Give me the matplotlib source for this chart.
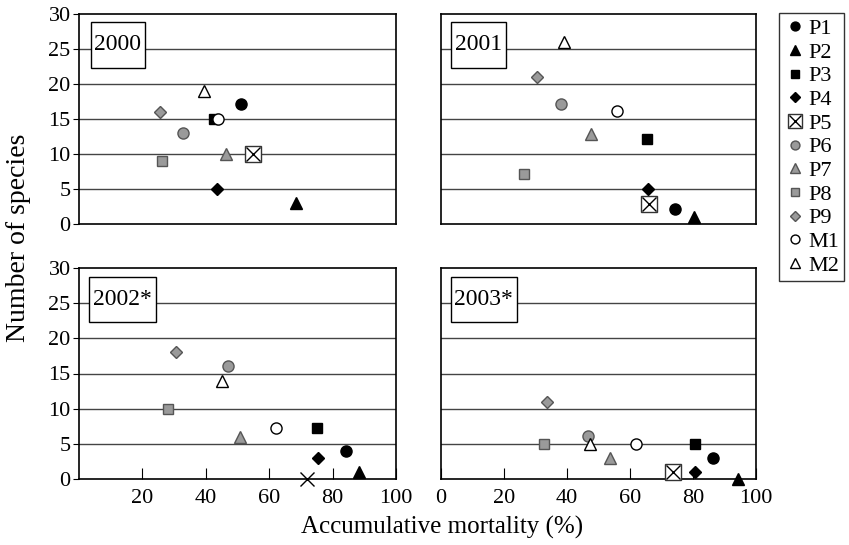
import numpy as np
import matplotlib
matplotlib.use('Agg')
from matplotlib import pyplot as plt
from matplotlib.lines import Line2D
from matplotlib.patches import Rectangle
from matplotlib.legend_handler import HandlerTuple

plt.rcParams['font.family'] = ['Liberation Serif', 'DejaVu Serif']

years = ['2000', '2001', '2002*', '2003*']
series = ['P1', 'P2', 'P3', 'P4', 'P5', 'P6', 'P7', 'P8', 'P9', 'M1', 'M2']

# accumulative mortality (%) per panel, one value per series
mort_2000 = [51.2, 68.5, 42.6, 43.5, 54.8, 32.7, 46.3, 26.3, 25.5, 43.7, 39.3]
mort_2001 = [74.3, 80.2, 65.5, 65.7, 65.9, 38.2, 47.7, 26.2, 30.5, 55.8, 39.2]
mort_2002 = [84.2, 88.4, 75.2, 75.4, 71.8, 47.0, 50.8, 28.1, 30.6, 62.1, 45.0]
mort_2003 = [86.5, 94.2, 80.6, 80.6, 73.5, 46.8, 53.5, 32.8, 33.5, 62.0, 47.2]

# number of species
spec_2000 = [17.2, 3, 15, 5, 10, 13, 10, 9, 16, 15, 19]
spec_2001 = [2.1, 1, 12.2, 5, 2.8, 17.2, 12.8, 7.2, 21, 16.2, 26]
spec_2002 = [4, 1, 7.2, 3, 0, 16.1, 6, 10, 18, 7.2, 14]
spec_2003 = [3, 0, 5, 1, 1, 6.1, 3, 5, 11, 5, 5]

mortality = [mort_2000, mort_2001, mort_2002, mort_2003]
species = [spec_2000, spec_2001, spec_2002, spec_2003]
p5_boxed = [True, True, False, True]

gray = '#9a9a9a'
styles = {
    'P1': dict(marker='o', mfc='black', mec='black', ms=8),
    'P2': dict(marker='^', mfc='black', mec='black', ms=9),
    'P3': dict(marker='s', mfc='black', mec='black', ms=7.5),
    'P4': dict(marker='D', mfc='black', mec='black', ms=6.5),
    'P5': dict(marker='s', mfc='white', mec='#333333', ms=12, mew=1),
    'P6': dict(marker='o', mfc=gray, mec='#555555', ms=8),
    'P7': dict(marker='^', mfc=gray, mec='#555555', ms=9),
    'P8': dict(marker='s', mfc=gray, mec='#555555', ms=7.5),
    'P9': dict(marker='D', mfc=gray, mec='#555555', ms=6.5),
    'M1': dict(marker='o', mfc='white', mec='black', ms=8),
    'M2': dict(marker='^', mfc='white', mec='black', ms=9),
}
xstyle = dict(marker='x', mec='black', ms=10, mew=1)

W, H = 849, 545
fig = plt.figure(figsize=(W / 100, H / 100), dpi=100)

# axes boxes in pixels: left, top, right, bottom
boxes = [(79, 14, 396, 224), (441, 14, 756, 224),
         (79, 268, 396, 479), (441, 268, 756, 479)]
label_boxes = [(0.038, 0.743, 0.17, 0.219), (0.032, 0.743, 0.173, 0.219),
               (0.033, 0.743, 0.209, 0.213), (0.031, 0.743, 0.209, 0.213)]

for i, (l, t, r, b) in enumerate(boxes):
    ax = fig.add_axes([l / W, 1 - b / H, (r - l) / W, (b - t) / H])
    ax.set_xlim(0, 100)
    ax.set_ylim(0, 30)
    for y in [5, 10, 15, 20, 25]:
        ax.axhline(y, color='#444444', lw=1, zorder=1)
    for s, name in enumerate(series):
        x = mortality[i][s]
        y = species[i][s]
        if name == 'P5':
            if p5_boxed[i]:
                ax.plot(x, y, ls='none', zorder=3, clip_on=False, **styles[name])
            ax.plot(x, y, ls='none', zorder=4, clip_on=False, **xstyle)
        else:
            ax.plot(x, y, ls='none', zorder=3, clip_on=False, **styles[name])

    bx, by, bw, bh = label_boxes[i]
    ax.add_patch(Rectangle((bx, by), bw, bh, transform=ax.transAxes,
                           fc='white', ec='black', lw=1, zorder=5))
    ax.text(bx + bw / 2, by + bh / 2, years[i], transform=ax.transAxes,
            ha='center', va='center', fontsize=17, zorder=6)

    for sp in ax.spines.values():
        sp.set_linewidth(1.2)
        sp.set_zorder(2)

    if i % 2 == 0:
        ax.set_yticks([0, 5, 10, 15, 20, 25, 30])
        ax.tick_params(axis='y', direction='out', length=4, labelsize=16, pad=2)
    else:
        ax.set_yticks([])

    if i < 2:
        ax.set_xticks([])
    else:
        ticks = [20, 40, 60, 80, 100] if i == 2 else [0, 20, 40, 60, 80, 100]
        ax.set_xticks(ticks)
        ax.tick_params(axis='x', direction='in', length=8, labelsize=16, pad=7)

fig.text(19 / W, 1 - 238 / H, 'Number of species', rotation=90,
         ha='center', va='center', fontsize=20)
fig.text(442 / W, 1 - 527 / H, 'Accumulative mortality (%)',
         ha='center', va='center', fontsize=18)

handles = []
for name in series:
    h = Line2D([], [], ls='none', **styles[name])
    if name == 'P5':
        h = (h, Line2D([], [], ls='none', **xstyle))
    handles.append(h)
leg = fig.legend(handles, series, loc='upper left',
                 bbox_to_anchor=(779 / W, 1 - 13 / H),
                 handler_map={tuple: HandlerTuple(ndivide=1, pad=0)},
                 fontsize=16, frameon=True, fancybox=False, handlelength=0.9,
                 handletextpad=0.15, labelspacing=0.14, borderpad=0.25,
                 borderaxespad=0, markerscale=0.8)
leg.get_frame().set_edgecolor('black')
leg.get_frame().set_linewidth(1)

fig.savefig('out.png', dpi=100)
